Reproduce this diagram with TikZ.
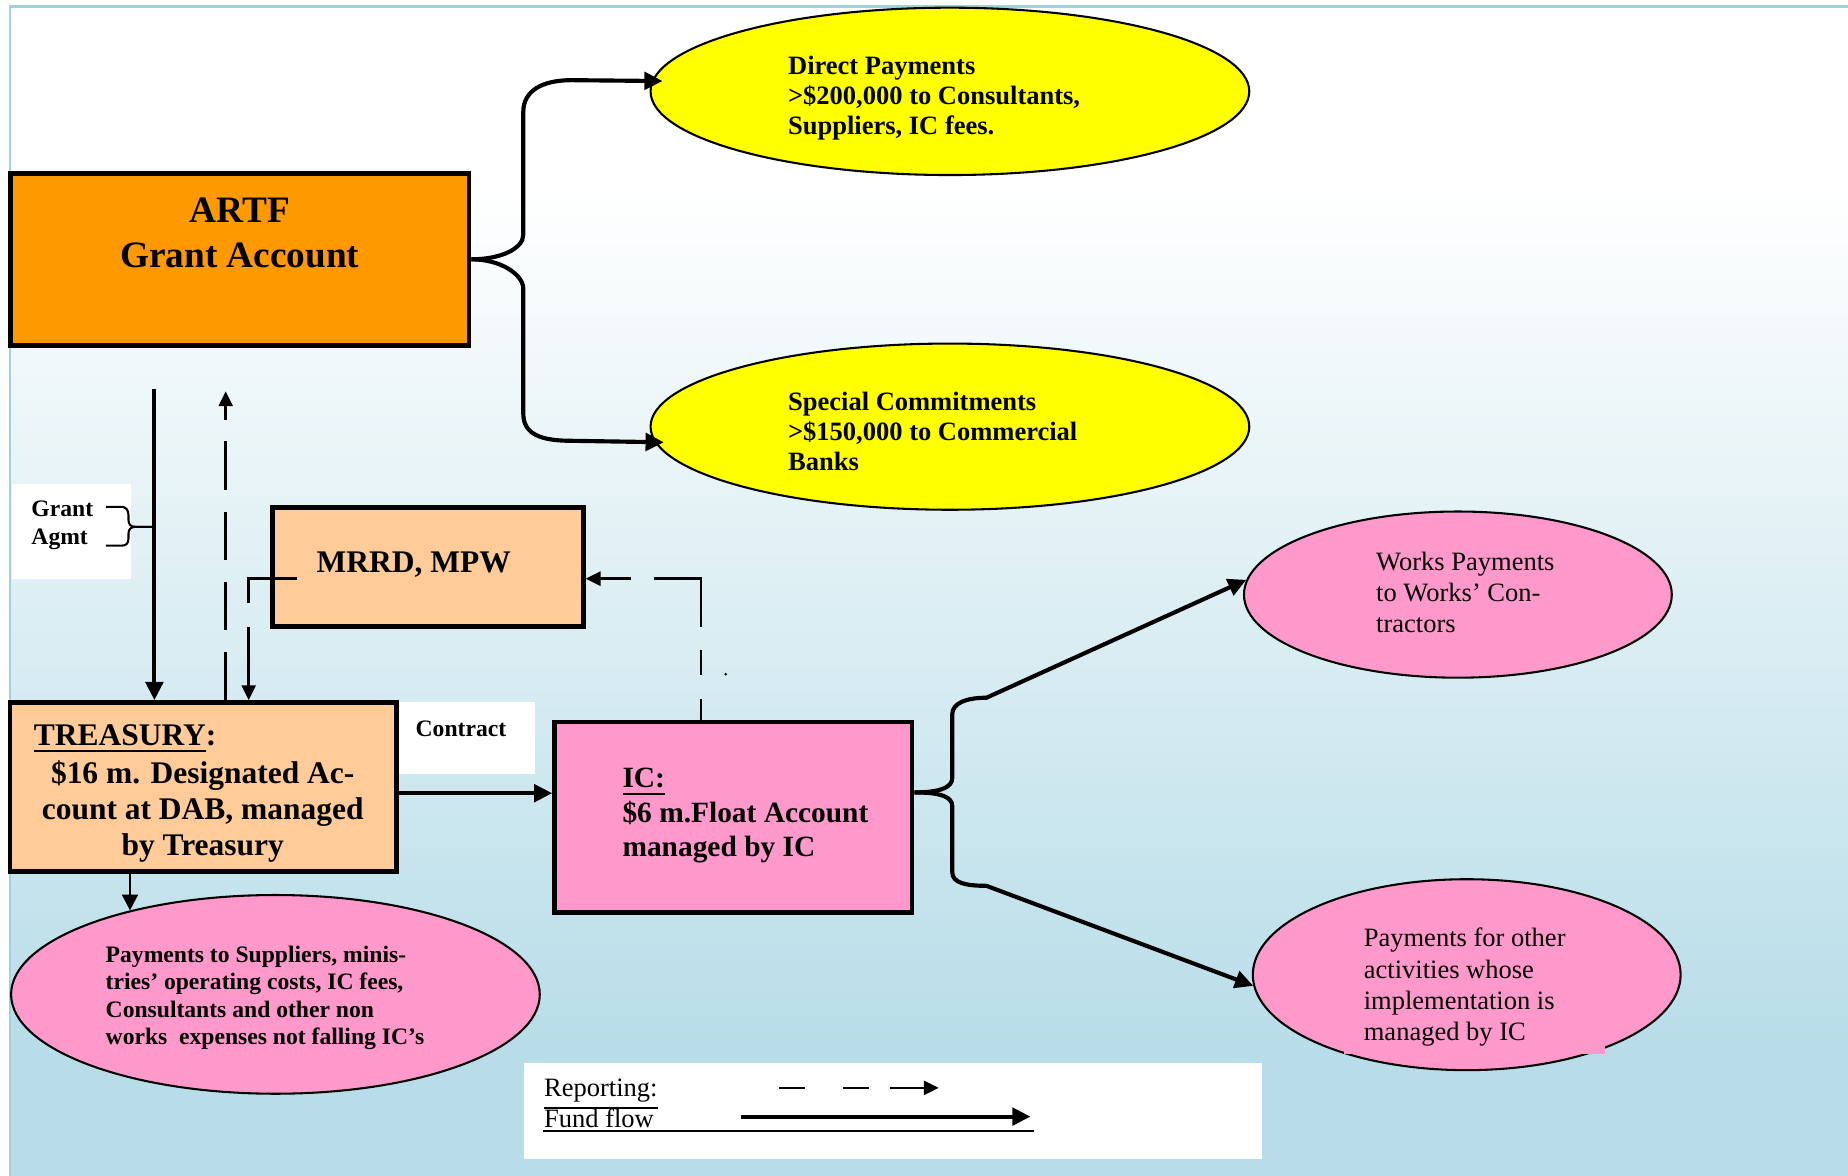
\documentclass[tikz,border=0pt]{standalone}
\usepackage{fontspec}
\setmainfont{Liberation Serif}
\usetikzlibrary{arrows.meta,shapes.geometric,calc}
\definecolor{artforange}{RGB}{255,153,0}
\definecolor{peach}{RGB}{255,204,153}
\definecolor{pinkfill}{RGB}{255,153,204}
\definecolor{payyellow}{RGB}{255,255,0}
\definecolor{skyblue}{RGB}{184,221,232}
\definecolor{rimblue}{RGB}{160,210,222}
\newcommand{\fsz}[2]{\fontsize{#1}{#2}\selectfont}
\tikzset{acct/.style={draw, line width=1.1pt, inner sep=0pt}}
\tikzset{oval/.style={ellipse, draw, line width=0.5pt, inner sep=0pt}}
\tikzset{tag/.style={fill=white, inner sep=0pt}}
\tikzset{txt/.style={inner sep=0pt, align=left, anchor=west}}
\tikzset{flow/.style={line width=1pt, -{Triangle[length=4.4pt,width=4.2pt]}}}
\tikzset{thinflow/.style={line width=0.6pt, -{Triangle[length=3.8pt,width=3.8pt]}}}
\tikzset{report/.style={line width=0.6pt, dash pattern=on 4.1mm off 1.85mm, -{Triangle[length=3.6pt,width=3.4pt]}}}

\begin{document}
\begin{tikzpicture}[x=0.1mm, y=-0.1mm]
\useasboundingbox (0,0) rectangle (1568,997);
\fill[top color=white, bottom color=skyblue] (9,160) rectangle (1580,890);
\fill[skyblue] (9,889) rectangle (1580,1010);
\draw[rimblue, line width=0.6pt] (8.5,1010) -- (8.5,5.5) -- (1580,5.5);

\node[tag, minimum width=10.1mm, minimum height=8mm] (agmttag) at (60.5,451) {};
\node[tag, minimum width=11.66mm, minimum height=6.1mm] (contracttag) at (395.3,626.5) {};
\node[tag, minimum width=62.6mm, minimum height=8.14mm] (legend) at (757.5,942.7) {};

\node[acct, fill=artforange, minimum width=38.9mm, minimum height=14.6mm] (artf) at (203.5,220) {};
\node[acct, fill=peach, minimum width=26.4mm, minimum height=10.1mm] (mrrd) at (363,481) {};
\node[acct, fill=peach, minimum width=32.8mm, minimum height=14.36mm] (treasury) at (172.5,667.8) {};
\node[acct, fill=pinkfill, minimum width=30.35mm, minimum height=16.13mm] (ic) at (622.25,693.35) {};

\node[oval, fill=payyellow, minimum width=50.8mm, minimum height=14.2mm] (direct) at (806,77.5) {};
\node[oval, fill=payyellow, minimum width=50.8mm, minimum height=14.1mm] (special) at (806,362) {};
\node[oval, fill=pinkfill, minimum width=36.3mm, minimum height=14.1mm] (works) at (1237,504.5) {};
\node[oval, fill=pinkfill, minimum width=36.3mm, minimum height=16.2mm] (other) at (1244.5,827) {};
\node[oval, fill=pinkfill, minimum width=44.86mm, minimum height=16.86mm] (supplies) at (233.7,843.7) {};
\fill[pinkfill] (1140.6,780) rectangle (1362,894.5);

\node[txt, font=\fsz{9pt}{10.8pt}\bfseries, align=center, anchor=center] (artftext) at (203.5,197.5) {ARTF\\Grant Account};
\node[txt, font=\fsz{6.4pt}{7.25pt}\bfseries] (directtext) at (668,83.2) {Direct Payments\\>\$200,000 to Consultants,\\Suppliers, IC fees.};
\node[txt, font=\fsz{6.4pt}{7.25pt}\bfseries] (specialtext) at (668,365.8) {Special Commitments\\>\$150,000 to Commercial\\Banks};
\node[txt, font=\fsz{5.7pt}{6.8pt}\bfseries] (agmttext) at (26,446) {Grant\\Agmt};
\node[txt, font=\fsz{7.6pt}{8.8pt}\bfseries] (mrrdtext) at (268,479) {MRRD, MPW};
\node[txt, font=\fsz{7.6pt}{8.8pt}\bfseries] (treasuryhead) at (28,627) {\underline{TREASURY}:};
\node[txt, font=\fsz{7.6pt}{8.8pt}\bfseries, align=center, anchor=center] (treasurytext) at (172,688.5) {\$16 m. Designated Ac-\\count at DAB, managed\\by Treasury};
\node[txt, font=\fsz{5.7pt}{6.8pt}\bfseries] (contracttext) at (352,618) {Contract};
\node[txt, font=\fsz{7.1pt}{8.25pt}\bfseries] (ictext) at (527.5,692) {\underline{IC:}\\\$6 m.Float Account\\managed by IC};
\node[txt, font=\fsz{5.7pt}{6.6pt}\bfseries] (suppliestext) at (89,846.75) {Payments to Suppliers, minis-\\tries' operating costs, IC fees,\\Consultants and other non\\works\ \ expenses not falling IC's};
\node[txt, font=\fsz{6.4pt}{7.5pt}] (workstext) at (1167,502.7) {Works Payments\\to Works' Con-\\tractors};
\node[txt, font=\fsz{6.4pt}{7.5pt}] (othertext) at (1156.5,837.5) {Payments for other\\activities whose\\implementation is\\managed by IC};

% fund flow
\coordinate (grantin) at (131,330);
\draw[flow] (grantin) -- (grantin |- treasury.north);
\draw[line width=0.5pt] (90,430) -- (103,430) .. controls (107,430) and (109,433) .. (109,437) -- (109,441) .. controls (109,445) and (111,447) .. (115,447) -- (129,447);
\draw[line width=0.5pt] (129,447) -- (115,447) .. controls (111,447) and (109,449) .. (109,453) -- (109,457) .. controls (109,461) and (107,463) .. (103,463) -- (90,463);
\coordinate (fundout) at ([yshift=-0.52mm]treasury.east);
\draw[flow] (fundout) -- (fundout -| ic.west);
\draw[thinflow] (supplies.150 |- treasury.south) -- (supplies.150);
\draw[flow, shorten >=-2.6pt] (artf.east) .. controls +(25,0) and +(0,12) .. (444,199) -- (444,95) .. controls +(0,-18) and +(-25,0) .. (485,68) -- (direct.178);
\draw[flow, shorten >=-2.2pt] (artf.east) .. controls +(25,0) and +(0,-12) .. (444,245) -- (444,351) .. controls +(0,18) and +(-25,0) .. (485,374) -- (special.183);
\coordinate (icfork) at ([yshift=2.1mm]ic.east);
\draw[flow] (icfork) .. controls +(22,0) and +(0,8) .. (808,660) -- (808,606) .. controls +(0,-9) and +(-18,0) .. (837,592) -- (works.176);
\draw[flow] (icfork) .. controls +(22,0) and +(0,-8) .. (808,684) -- (808,740) .. controls +(0,9) and +(-18,0) .. (837,751.6) -- (other.183);

% reporting
\coordinate (repartf) at (191.5,332);
\draw[report] (repartf |- treasury.north) -- (repartf);
\coordinate (mrrdstub) at (252,491);
\draw[report, dash pattern=on 6.2mm off 2mm on 20mm] (mrrdstub) -| ([xshift=3.85mm]treasury.north);
\draw[report, dash pattern=on 1.8mm off 2mm on 2.1mm off 2mm on 8.1mm off 1.9mm on 6mm] ([xshift=-2.725mm]ic.north) |- ([yshift=-1mm]mrrd.east);
\fill (615.7,572) circle (0.35pt);

% legend
\node[inner sep=0pt, anchor=base west, font=\fsz{6.4pt}{7.6pt}] (reptext) at (461,930.5) {\underline{Reporting:}};
\node[inner sep=0pt, anchor=base west, font=\fsz{6.4pt}{7.6pt}] (fundtext) at (461,957) {Fund flow};
\draw[line width=0.5pt] ([yshift=-0.3mm]fundtext.base west) -- ++(416,0);
\coordinate (repfrom) at (661,923);
\coordinate (repto) at (796.5,923);
\draw[report, dash pattern=on 2.2mm off 3.2mm on 2.2mm off 1.8mm on 5mm] (repfrom) -- (repto);
\coordinate (fundfrom) at (629,947.4);
\coordinate (fundto) at (874.4,947.4);
\draw[flow] (fundfrom) -- (fundto);
\end{tikzpicture}
\end{document}
